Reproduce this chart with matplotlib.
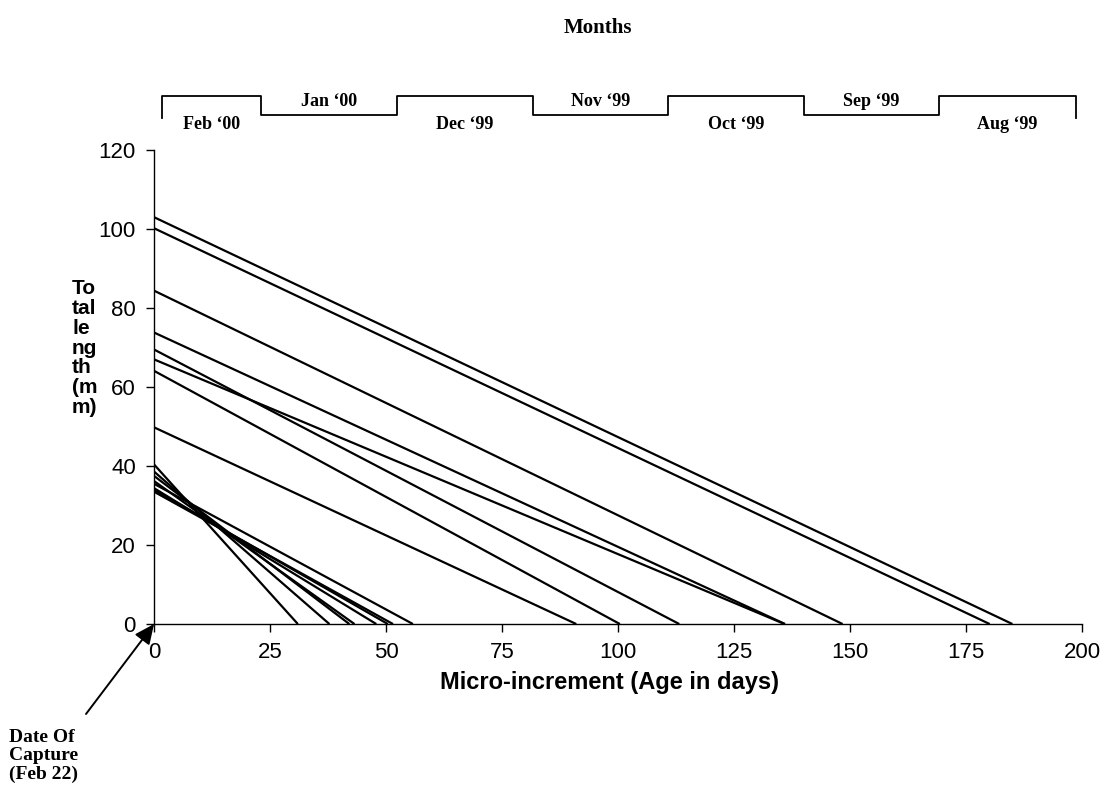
import matplotlib
matplotlib.use("Agg")
import matplotlib.pyplot as plt

# Each fish: total length at capture (mm, at day 0) and age in days (x-intercept)
lengths = [103.0, 100.2, 84.4, 73.8, 69.5, 67.0, 64.1, 49.8,
           40.4, 38.6, 37.5, 36.2, 34.4, 34.0, 33.5, 35.5]
ages = [185.0, 180.1, 148.4, 136.0, 113.2, 135.9, 100.4, 91.0,
        31.0, 37.8, 42.1, 43.2, 47.9, 50.4, 51.5, 55.8]

months = ["Feb \u201800", "Jan \u201800", "Dec \u201899", "Nov \u201899",
          "Oct \u201899", "Sep \u201899", "Aug \u201899"]
month_bounds = [1.7, 23.1, 52.3, 81.6, 110.8, 140.0, 169.1, 198.7]

xticks = [0, 25, 50, 75, 100, 125, 150, 175, 200]
yticks = [0, 20, 40, 60, 80, 100, 120]

sans = "Liberation Sans"
serif = "Liberation Serif"

fig = plt.figure(figsize=(11.05, 7.98), dpi=100)
ax = fig.add_axes([0.1394, 0.218, 0.9792 - 0.1394, 0.812 - 0.218])

for L, A in zip(lengths, ages):
    ax.plot([0, A], [L, 0], color="black", lw=1.6, solid_capstyle="butt")

ax.set_xlim(0, 200)
ax.set_ylim(0, 120)
ax.set_xticks(xticks)
ax.set_yticks(yticks)
ax.spines["top"].set_visible(False)
ax.spines["right"].set_visible(False)
for s in ("left", "bottom"):
    ax.spines[s].set_linewidth(1.0)
ax.tick_params(direction="out", length=6, width=1.0, labelsize=16)
ax.tick_params(axis="x", pad=7)
ax.tick_params(axis="y", pad=7)
for lab in ax.get_xticklabels() + ax.get_yticklabels():
    lab.set_fontfamily(sans)

ax.set_xlabel("Micro-increment (Age in days)", fontsize=17, fontweight="bold",
              fontfamily=sans, labelpad=10)
ax.xaxis.set_label_coords(0.491, -0.1)

fig.text(72 / 1105, 1 - 348 / 798, "To\ntal\nle\nng\nth\n(m\nm)", fontsize=15,
         fontweight="bold", fontfamily=sans, ha="left", va="center",
         linespacing=1.05)

# Month bracket above the plot
y_hi, y_lo = 133.7, 128.9
xs, ys = [month_bounds[0]], [y_lo - 0.8]
for i in range(len(months)):
    lvl = y_hi if i % 2 == 0 else y_lo
    xs += [month_bounds[i], month_bounds[i + 1]]
    ys += [lvl, lvl]
xs.append(month_bounds[-1])
ys.append(y_lo - 0.8)
ax.plot(xs, ys, color="black", lw=1.3, clip_on=False)

for i, m in enumerate(months):
    xc = (month_bounds[i] + month_bounds[i + 1]) / 2
    if i % 2 == 0:
        ax.text(xc, y_hi - 5.2, m, ha="center", va="top", fontsize=13,
                fontweight="bold", fontfamily=serif, clip_on=False)
    else:
        ax.text(xc, y_lo + 1.3, m, ha="center", va="bottom", fontsize=13,
                fontweight="bold", fontfamily=serif, clip_on=False)

fig.text(598 / 1105, 1 - 28 / 798, "Months", fontsize=15, fontweight="bold",
         fontfamily=serif, ha="center", va="center")

# Date of capture arrow
ax.annotate("", xy=(0, 0), xycoords="data",
            xytext=(86 / 1105, 1 - 714 / 798), textcoords="figure fraction",
            arrowprops=dict(arrowstyle="-|>,head_length=1.2,head_width=0.55",
                            color="black", lw=1.4, shrinkA=0, shrinkB=0),
            annotation_clip=False)
fig.text(9 / 1105, 1 - 729 / 798, "Date Of\nCapture\n(Feb 22)", fontsize=14,
         fontweight="bold", fontfamily=serif, ha="left", va="top",
         linespacing=1.1)

fig.savefig("out.png", dpi=100)
